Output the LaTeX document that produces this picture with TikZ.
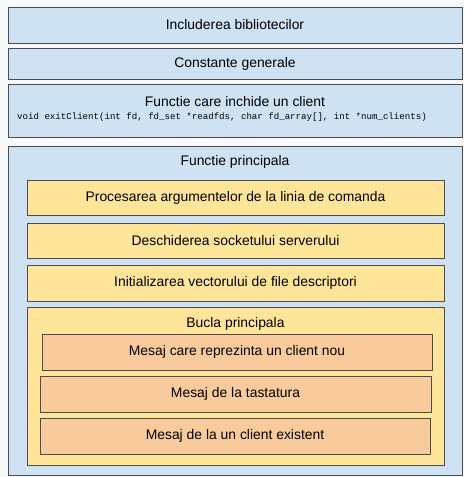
\documentclass[tikz,border=0pt]{standalone}
\usepackage{fontspec}
\setmainfont{Liberation Sans}
\newfontfamily\codefont{Liberation Mono}
\definecolor{bluef}{HTML}{CFE2F3}
\definecolor{yelf}{HTML}{FFE599}
\definecolor{oraf}{HTML}{F9CB9C}
\definecolor{edge}{HTML}{4D4D4D}
\definecolor{bg}{HTML}{F7F8FA}
\tikzset{
  box/.style={draw=edge, line width=1pt, inner sep=0pt, align=center,
    font=\fontsize{13.9}{16}\selectfont, text=black},
  bluebox/.style={box, fill=bluef},
  yelbox/.style={box, fill=yelf},
  orabox/.style={box, fill=oraf},
  title/.style={inner sep=0pt, font=\fontsize{13.9}{16}\selectfont},
  code/.style={inner sep=0pt, font=\codefont\fontsize{9.1}{11}\selectfont}
}
\begin{document}
\begin{tikzpicture}[x=1pt,y=-1pt]
\fill[bg] (0,0) rectangle (464,477);
\useasboundingbox (0,0) rectangle (464,477);
\node[bluebox, minimum width=454, minimum height=36] (incl) at (235,25) {Includerea bibliotecilor};
\node[bluebox, minimum width=454, minimum height=31] (const) at (235,63.5) {Constante generale};
\node[bluebox, minimum width=454, minimum height=53] (exitf) at (235,110.5) {};
\node[title] (exitt) at (235,102) {Functie care inchide un client};
\node[code] (exitc) at (222,117) {void exitClient(int fd, fd\_set *readfds, char fd\_array[], int *num\_clients)};
\node[bluebox, minimum width=454, minimum height=329] (mainf) at (235,310.5) {};
\node[title] (maint) at (235,162) {Functie principala};
\node[yelbox, minimum width=417, minimum height=35] (args) at (235.5,197.5) {Procesarea argumentelor de la linia de comanda};
\node[yelbox, minimum width=417, minimum height=35] (sock) at (235.5,240.5) {Deschiderea socketului serverului};
\node[yelbox, minimum width=417, minimum height=36] (init) at (235.5,283) {Initializarea vectorului de file descriptori};
\node[yelbox, minimum width=417, minimum height=158] (loop) at (235.5,386) {};
\node[title] (loopt) at (235.5,324) {Bucla principala};
\node[orabox, minimum width=390, minimum height=36] (newc) at (237,352) {Mesaj care reprezinta un client nou};
\node[orabox, minimum width=391, minimum height=36] (kbd) at (235.5,394) {Mesaj de la tastatura};
\node[orabox, minimum width=390, minimum height=36] (exc) at (235,436) {Mesaj de la un client existent};
\end{tikzpicture}
\end{document}
